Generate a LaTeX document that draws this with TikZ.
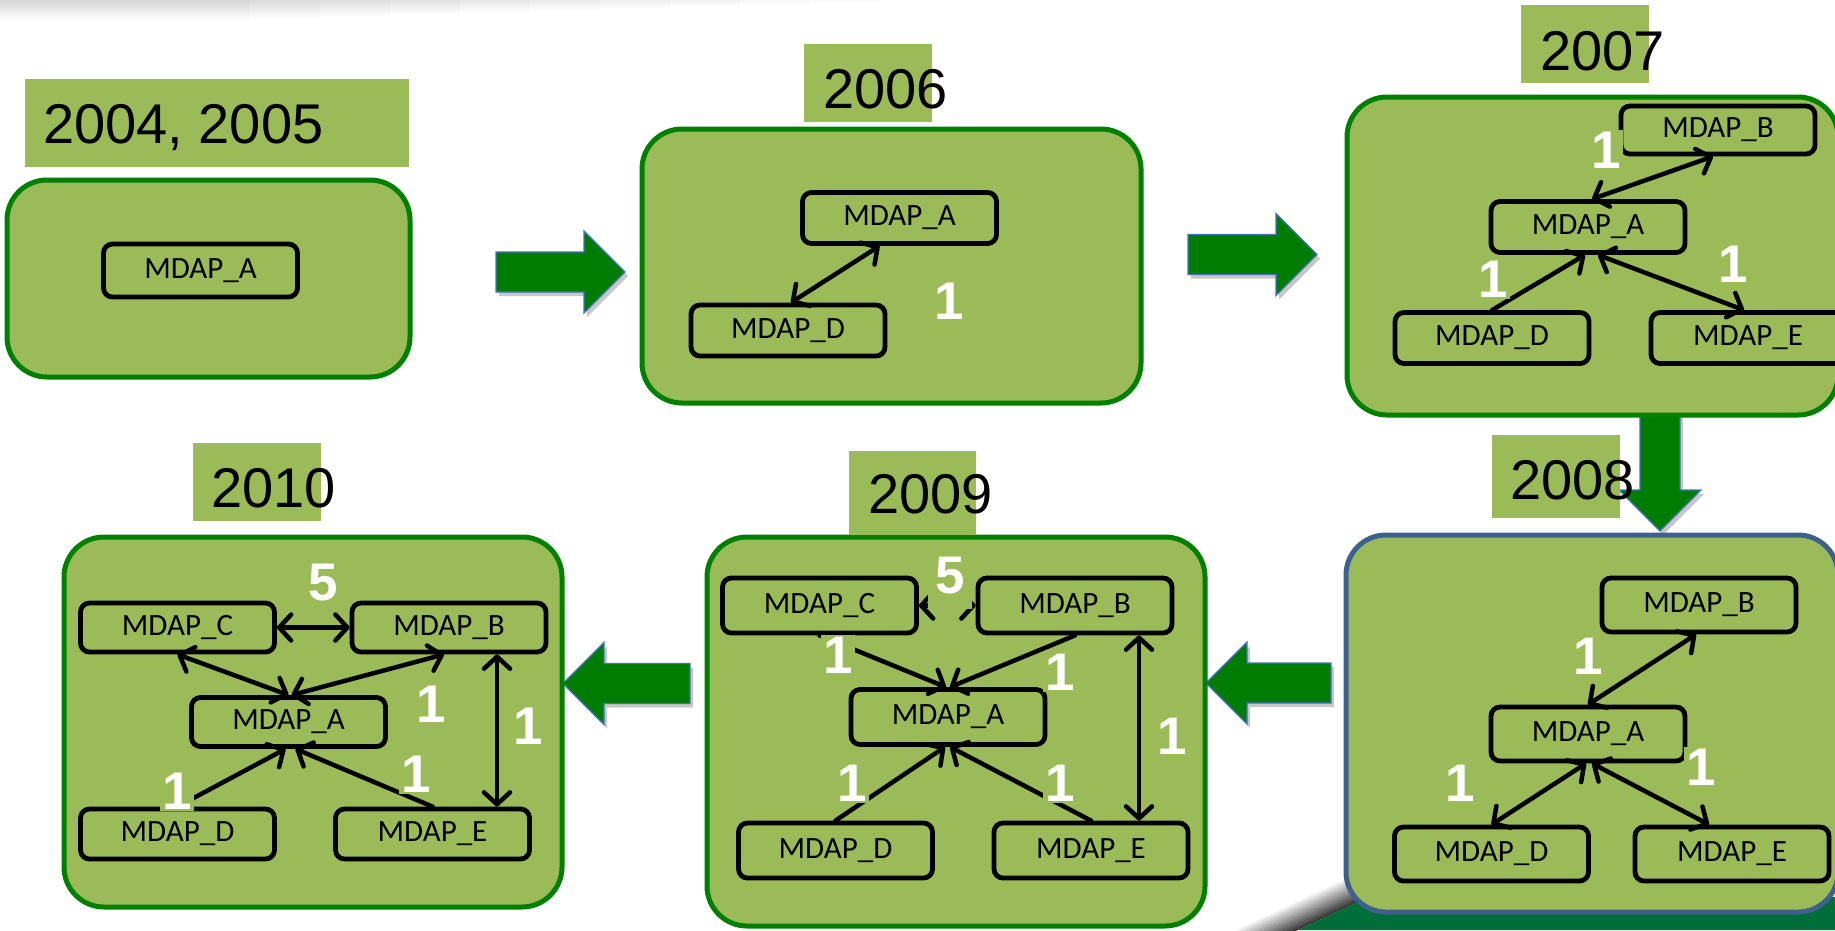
\documentclass[tikz,border=0pt]{standalone}
\usepackage{fontspec}
\setmainfont{Liberation Sans}
\newfontfamily\boxfont{Carlito}
\usetikzlibrary{arrows.meta,calc}

\definecolor{panelfill}{RGB}{155,187,89}
\definecolor{panelline}{RGB}{0,128,0}
\definecolor{panelblue}{RGB}{62,96,140}
\definecolor{arrowfill}{RGB}{0,125,0}
\definecolor{arrowedge}{RGB}{68,114,196}
\definecolor{curlgreen}{RGB}{0,110,56}

\tikzset{
  panel/.style={draw=panelline, fill=panelfill, line width=5pt,
    rounded corners=40pt, inner sep=0pt},
  mdap/.style={draw=black, fill=panelfill, line width=4.8pt, rounded corners=9pt,
    minimum width=194pt, minimum height=51pt, inner sep=0pt,
    font=\boxfont\fontsize{31}{31}\selectfont},
  link/.style={line width=4.5pt, line cap=round},
  weight/.style={text=white, fill=panelfill, inner sep=2pt,
    font=\bfseries\fontsize{53}{53}\selectfont},
  yearbox/.style={fill=panelfill, inner sep=0pt},
  yeartext/.style={anchor=base west, inner sep=0pt,
    font=\fontsize{56}{56}\selectfont},
  arrowbody/.style={fill=arrowfill, draw=arrowedge, line width=1.3pt, line join=miter},
  arrowshade/.style={fill=black, opacity=0.22},
  pics/blockarrow/.style={code={
    \path[pic actions] (0,0) -- (-41,41) -- (-41,20) -- (-#1,20) -- (-#1,-20)
      -- (-41,-20) -- (-41,-41) -- cycle;}}
}

\begin{document}
\begin{tikzpicture}[x=1pt, y=1pt, >={Straight Barb[length=12pt,width=26pt,round]}]
\useasboundingbox (0,0) rectangle (1835,-930);
\clip (0,0) rectangle (1835,-930);
\fill[white] (0,0) rectangle (1835,-930);

% soft shadow along the top edge
\foreach \i in {0,...,9}
  \fill[black, opacity=0.016] (0,0) rectangle ({880-70*\i},{-2-2*\i});

% page curl in the lower right corner
\foreach \k in {0,...,13}{
  \pgfmathtruncatemacro\dk{78-6*\k}
  \pgfmathsetmacro\off{1+2*\k}
  \draw[line width=2.3pt, black!\dk]
    ($(1298,-930)+\off*(-0.426,0.904)+(-90,-42)$) -- ($(1368,-897)+\off*(-0.426,0.904)$);
}
\fill[curlgreen] (1298,-930) -- (1368,-897) -- (1835,-897) -- (1835,-930) -- cycle;

% block arrows between the years
\pic[arrowshade, shift={(3,-4)}] at (625,-272) {blockarrow=129};
\pic[arrowbody] at (625,-272) {blockarrow=129};
\pic[arrowshade, shift={(3,-4)}] at (1317,-254.5) {blockarrow=129};
\pic[arrowbody] at (1317,-254.5) {blockarrow=129};
\pic[arrowshade, shift={(3,-4)}, rotate=-90] at (1660,-531) {blockarrow=131};
\pic[arrowbody, rotate=-90] at (1660,-531) {blockarrow=131};
\pic[arrowshade, shift={(3,-4)}, rotate=180] at (1206,-683) {blockarrow=125};
\pic[arrowbody, rotate=180] at (1206,-683) {blockarrow=125};
\pic[arrowshade, shift={(3,-4)}, rotate=180] at (563,-683.5) {blockarrow=127};
\pic[arrowbody, rotate=180] at (563,-683.5) {blockarrow=127};

% year panels
\node[panel, minimum width=403pt, minimum height=197pt] (p1) at (208.5,-278.5) {};
\node[panel, minimum width=499pt, minimum height=274pt] (p2) at (891.5,-266) {};
\node[panel, minimum width=491pt, minimum height=318pt] (p3) at (1592.5,-256) {};
\node[panel, draw=panelblue, minimum width=492pt, minimum height=377pt] (p4) at (1592,-723.5) {};
\node[panel, minimum width=498pt, minimum height=389pt] (p5) at (956,-731.5) {};
\node[panel, minimum width=498pt, minimum height=370pt] (p6) at (313,-722) {};

% 2004, 2005
\node[mdap, minimum height=53pt] (a1) at (200.5,-270.5) {MDAP\_A};

% 2006
\node[mdap] (a2) at (899.5,-218) {MDAP\_A};
\node[mdap] (d2) at (788,-330.5) {MDAP\_D};
\draw[link,<->] ([xshift=3pt]d2.north) -- ([xshift=-20pt]a2.south);

% 2007
\node[mdap, minimum height=48pt] (b3) at (1718,-130) {MDAP\_B};
\node[mdap] (a3) at (1588,-227) {MDAP\_A};
\node[mdap] (d3) at (1492,-338) {MDAP\_D};
\node[mdap] (e3) at (1748,-338) {MDAP\_E};
\draw[link,<->] ([xshift=4pt]a3.north) -- ([xshift=-5pt]b3.south);
\draw[link,->] (d3.north) -- ([xshift=-3pt]a3.south);
\draw[link,<->] ([xshift=10pt]a3.south) -- ([xshift=-4pt]e3.north);

% 2008
\node[mdap, minimum height=54pt] (b4) at (1699,-605) {MDAP\_B};
\node[mdap, minimum height=54pt] (a4) at (1588,-734) {MDAP\_A};
\node[mdap, minimum height=54pt] (d4) at (1491.5,-854) {MDAP\_D};
\node[mdap, minimum height=54pt] (e4) at (1732,-854) {MDAP\_E};
\draw[link,<->] (a4.north) -- ([xshift=-3pt]b4.south);
\draw[link,<->] (d4.north) -- ([xshift=-2pt]a4.south);
\draw[link,<->] ([xshift=4pt]a4.south) -- ([xshift=-23pt]e4.north);

% 2009
\node[mdap, minimum height=55pt] (c5) at (819.5,-605.5) {MDAP\_C};
\node[mdap, minimum height=55pt] (b5) at (1075,-605.5) {MDAP\_B};
\node[mdap, minimum height=55pt] (a5) at (948,-717) {MDAP\_A};
\node[mdap, minimum height=55pt] (d5) at (835.5,-850.5) {MDAP\_D};
\node[mdap, minimum height=55pt] (e5) at (1091,-850.5) {MDAP\_E};
\draw[link,<->] (c5.east) -- (b5.west);
\draw[link,->] (c5.south) -- ([xshift=-2pt]a5.north);
\draw[link,->] (b5.south) -- ([xshift=2pt]a5.north);
\draw[link,->] (d5.north) -- ([xshift=-3pt]a5.south);
\draw[link,->] (e5.north) -- ([xshift=2pt]a5.south);
\draw[link,<->] ([xshift=64pt]b5.south) -- ([xshift=48pt]e5.north);

% 2010
\node[mdap, minimum height=49pt] (c6) at (177.5,-627.5) {MDAP\_C};
\node[mdap, minimum height=49pt] (b6) at (449,-627.5) {MDAP\_B};
\node[mdap, minimum height=49pt] (a6) at (288.5,-722) {MDAP\_A};
\node[mdap, minimum height=50pt] (d6) at (177.5,-834) {MDAP\_D};
\node[mdap, minimum height=50pt] (e6) at (432.5,-834) {MDAP\_E};
\draw[link,<->] (c6.east) -- (b6.west);
\draw[link,<->] (c6.south) -- (a6.north);
\draw[link,<->] ([xshift=-5pt]b6.south) -- ([xshift=3pt]a6.north);
\draw[link,->] (d6.north) -- ([xshift=-3pt]a6.south);
\draw[link,->] (e6.north) -- ([xshift=7pt]a6.south);
\draw[link,<->] ([xshift=48pt]b6.south) -- ([xshift=64.5pt]e6.north);

% link weights
\node[weight] (w2) at (949,-301) {1};
\node[weight] (w3b) at (1606,-150) {1};
\node[weight] (w3d) at (1493,-279) {1};
\node[weight] (w3e) at (1733,-264) {1};
\node[weight] (w4b) at (1588,-656) {1};
\node[weight] (w4d) at (1460,-783) {1};
\node[weight] (w4e) at (1701,-767) {1};
\node[weight, minimum width=44pt, minimum height=66pt] (w5c) at (950,-576) {5};
\node[weight] (w5ca) at (838,-655) {1};
\node[weight] (w5ba) at (1060,-672) {1};
\node[weight] (w5be) at (1172,-736) {1};
\node[weight] (w5d) at (852,-783) {1};
\node[weight] (w5e) at (1060,-783) {1};
\node[weight] (w6c) at (323,-583) {5};
\node[weight] (w6ba) at (431,-704) {1};
\node[weight] (w6be) at (528,-726) {1};
\node[weight] (w6d) at (177,-791) {1};
\node[weight] (w6e) at (416,-774) {1};

% year captions
\node[yearbox, minimum width=384pt, minimum height=88pt] (ybox1) at (217,-123) {};
\node[yeartext] (year1) at (43,-143) {2004, 2005};
\node[yearbox, minimum width=128pt, minimum height=78pt] (ybox2) at (868,-83) {};
\node[yeartext] (year2) at (823,-108) {2006};
\node[yearbox, minimum width=128pt, minimum height=78pt] (ybox3) at (1585,-44) {};
\node[yeartext] (year3) at (1540,-70) {2007};
\node[yearbox, minimum width=128pt, minimum height=83pt] (ybox4) at (1556,-476.5) {};
\node[yeartext] (year4) at (1510,-499) {2008};
\node[yearbox, minimum width=127pt, minimum height=84pt] (ybox5) at (912.5,-493) {};
\node[yeartext] (year5) at (868,-513) {2009};
\node[yearbox, minimum width=128pt, minimum height=78pt] (ybox6) at (257,-482) {};
\node[yeartext] (year6) at (211,-507) {2010};
\end{tikzpicture}
\end{document}
